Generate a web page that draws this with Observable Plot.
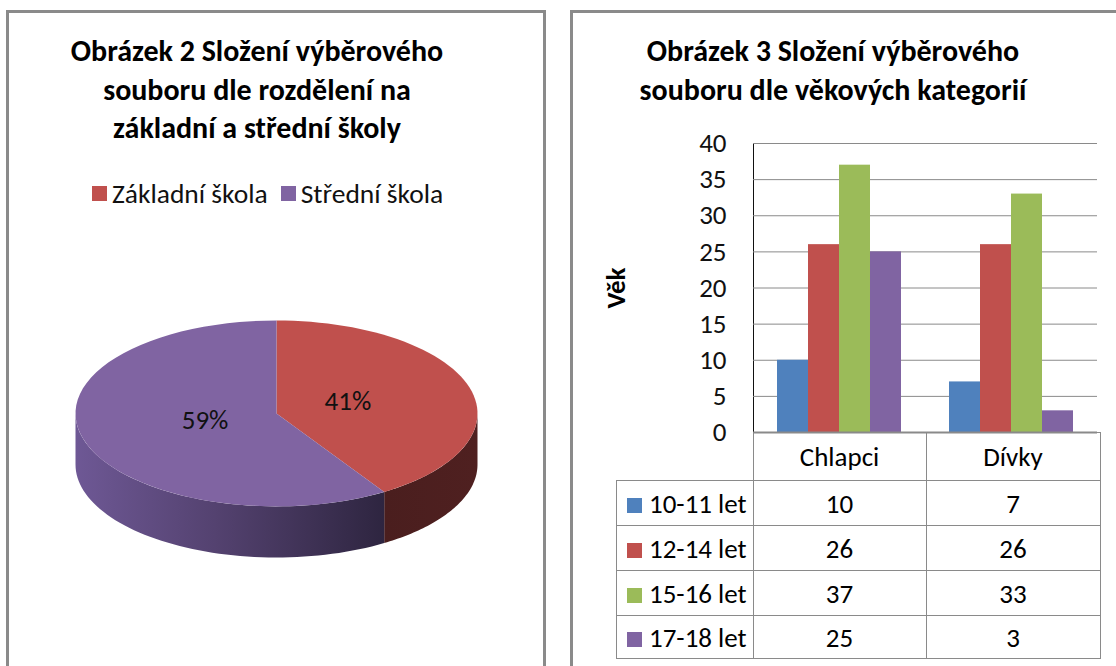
<!DOCTYPE html>
<html><head><meta charset="utf-8">
<script src="https://cdn.jsdelivr.net/npm/d3@7"></script>
<script src="https://cdn.jsdelivr.net/npm/@observablehq/plot@0.6"></script>
<style>
html,body{margin:0;padding:0;background:#fff;}
body{width:1116px;height:666px;position:relative;overflow:hidden;font-family:Carlito,Lato,"Open Sans",sans-serif;color:#000;}
.panel{position:absolute;border:3px solid #8a8a8a;box-sizing:border-box;}
.title{position:absolute;text-align:center;font-weight:bold;font-size:30px;line-height:38.5px;white-space:nowrap;}
.leg{position:absolute;font-size:27.5px;display:flex;align-items:center;white-space:nowrap;color:#111;}
.sw{display:inline-block;width:15px;height:15px;margin-right:5px;}
table.dt{position:absolute;left:616px;top:432px;border-collapse:collapse;font-size:27px;}
table.dt td{border:1.5px solid #8a8a8a;text-align:center;padding:0;white-space:nowrap;}
table.dt td.lab{text-align:left;padding-left:10px;}
table.dt td.blank{border-top:none;border-left:none;}
</style></head>
<body>
<div class="panel" style="left:6px;top:10px;width:540px;height:700px;"></div>
<div class="panel" style="left:570px;top:10px;width:600px;height:700px;"></div>
<div class="title" style="left:47px;top:32px;width:420px;">Obrázek 2 Složení výběrového<br>souboru dle rozdělení na<br>základní a střední školy</div>
<div class="title" style="left:623px;top:32px;width:420px;">Obrázek 3 Složení výběrového<br>souboru dle věkových kategorií</div>
<div id="pieLegend" class="leg" style="left:92px;top:177px;height:32px;"></div>
<div id="pie" style="position:absolute;left:60px;top:300px;"></div>
<div id="bars" style="position:absolute;left:572px;top:120px;"></div>
<div style="position:absolute;left:615px;top:288px;transform:translate(-50%,-50%) rotate(-90deg);font-weight:bold;font-size:27px;">Věk</div>
<table class="dt" id="tbl"></table>
<script>
// ---- data ----
const schoolLabels = ["Základní škola", "Střední škola"];
const schoolShares = [41, 59];
const schoolColors = ["#C0504D", "#8064A2"];

const groups = ["Chlapci", "Dívky"];
const ageGroups = ["10-11 let", "12-14 let", "15-16 let", "17-18 let"];
const chlapci = [10, 26, 37, 25];
const divky = [7, 26, 33, 3];
const ageColors = ["#4F81BD", "#C0504D", "#9BBB59", "#8064A2"];
const yTicks = [0, 5, 10, 15, 20, 25, 30, 35, 40];

const FONT = "Carlito, Lato, 'Open Sans', sans-serif";

// ---- pie legend ----
const leg = document.getElementById("pieLegend");
schoolLabels.forEach((l, i) => {
  const s = document.createElement("span");
  s.className = "sw"; s.style.background = schoolColors[i];
  if (i > 0) s.style.marginLeft = "13px";
  leg.appendChild(s);
  leg.appendChild(document.createTextNode(l));
});

// ---- 3D pie ----
const depth = 0.55;
const total = d3.sum(schoolShares);
let acc = 0;
const slices = schoolShares.map((v, i) => {
  const a0 = acc / total * 2 * Math.PI; acc += v;
  const a1 = acc / total * 2 * Math.PI;
  return {label: schoolLabels[i], value: v, a0, a1, color: schoolColors[i]};
});
const pt = (a, dy = 0) => ({x: Math.sin(a), y: Math.cos(a) - dy});
const arc = (a0, a1, dy = 0) => d3.range(0, 61).map(k => pt(a0 + (a1 - a0) * k / 60, dy));
const wedge = s => [{x: 0, y: 0}, ...arc(s.a0, s.a1), {x: 0, y: 0}];
const side = s => {
  const b0 = Math.max(s.a0, Math.PI / 2), b1 = Math.min(s.a1, 3 * Math.PI / 2);
  if (b1 <= b0) return [];
  return [...arc(b0, b1), ...arc(b1, b0, depth)];
};
const sideFill = ["url(#sideRed)", "url(#sidePurple)"];
const pieMarks = [];
slices.forEach((s, i) => pieMarks.push(Plot.line(side(s), {x: "x", y: "y", fill: sideFill[i], stroke: "none", curve: "linear"})));
slices.forEach(s => pieMarks.push(Plot.line(wedge(s), {x: "x", y: "y", fill: s.color, stroke: "none", curve: "linear"})));
const labelPts = slices.map(s => {
  const m = (s.a0 + s.a1) / 2;
  return {x: 0.37 * Math.sin(m), y: 0.37 * Math.cos(m) + 0.03, text: s.value + "%"};
});
pieMarks.push(Plot.text(labelPts, {x: "x", y: "y", text: "text", fontSize: 27, fill: "#111"}));

const pie = Plot.plot({
  width: 440, height: 270, margin: 0,
  x: {domain: [-1, 1], range: [15, 417], axis: null},
  y: {domain: [-1 - depth, 1], range: [257, 20], axis: null},
  style: {fontFamily: FONT, background: "transparent", overflow: "visible"},
  marks: pieMarks
});
const NS = "http://www.w3.org/2000/svg";
const defs = document.createElementNS(NS, "defs");
function grad(id, stops) {
  const g = document.createElementNS(NS, "linearGradient");
  g.setAttribute("id", id); g.setAttribute("x1", "0"); g.setAttribute("x2", "1"); g.setAttribute("y1", "0"); g.setAttribute("y2", "0");
  stops.forEach(([o, c]) => { const st = document.createElementNS(NS, "stop"); st.setAttribute("offset", o); st.setAttribute("stop-color", c); g.appendChild(st); });
  defs.appendChild(g);
}
grad("sidePurple", [[0, "#6e5895"], [0.45, "#544270"], [1, "#2e2540"]]);
grad("sideRed", [[0, "#4a1e1e"], [1, "#4f2020"]]);
pie.insertBefore(defs, pie.firstChild);
document.getElementById("pie").appendChild(pie);

// ---- grouped bars ----
const rows = [];
groups.forEach((g, gi) => {
  const vals = gi === 0 ? chlapci : divky;
  ageGroups.forEach((a, ai) => rows.push({group: g, age: a, value: vals[ai]}));
});
const bars = Plot.plot({
  width: 544, height: 322,
  marginLeft: 180, marginRight: 19, marginTop: 23, marginBottom: 10,
  fx: {domain: groups, padding: 0, axis: null},
  x: {domain: ageGroups, paddingInner: 0, paddingOuter: 0.7, axis: null},
  y: {domain: [0, 40], ticks: yTicks, tickSize: 0, tickPadding: 27, label: null, line: true},
  color: {domain: ageGroups, range: ageColors},
  style: {fontFamily: FONT, fontSize: "27px", color: "#111", background: "transparent", overflow: "visible"},
  marks: [
    Plot.ruleY(yTicks, {stroke: "#8a8a8a", strokeWidth: 1}),
    Plot.barY(rows, {fx: "group", x: "age", y: "value", fill: "age"}),
    Plot.ruleY([0], {stroke: "#8a8a8a", strokeWidth: 2})
  ]
});
bars.querySelectorAll("g[aria-label='y-axis'] path, g[aria-label='y-axis'] line").forEach(e => { e.setAttribute("stroke", "#8a8a8a"); });
document.getElementById("bars").appendChild(bars);

// ---- data table ----
const tbl = document.getElementById("tbl");
const colW = [136, 172, 173];
let html = '<tr style="height:48px"><td class="blank" style="width:' + colW[0] + 'px"></td>' +
  groups.map((g, i) => '<td style="width:' + colW[i + 1] + 'px">' + g + '</td>').join("") + '</tr>';
ageGroups.forEach((a, ai) => {
  html += '<tr style="height:' + (ai === 3 ? 43 : 45) + 'px"><td class="lab"><span class="sw" style="background:' + ageColors[ai] + ';margin-right:7px"></span>' + a + '</td>' +
    '<td>' + chlapci[ai] + '</td><td>' + divky[ai] + '</td></tr>';
});
tbl.innerHTML = html;
</script>
</body></html>
